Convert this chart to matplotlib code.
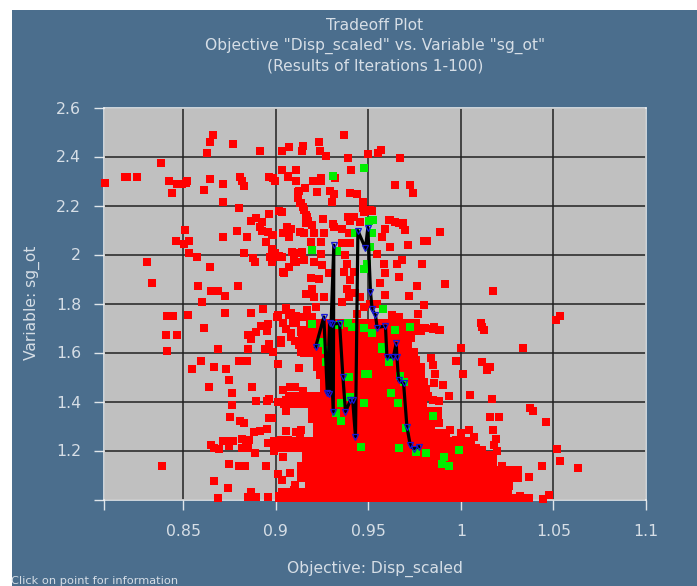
import numpy as np
import matplotlib
matplotlib.use("Agg")
import matplotlib.pyplot as plt
from matplotlib.patches import Rectangle

# ------------------------------------------------------------------
# data
# ------------------------------------------------------------------
red_sparse = [
    (0.8077,2.29),(0.8185,2.316),(0.8194,2.318),(0.8248,2.318),(0.838,2.373),(0.8424,2.302),(0.8437,2.253),
    (0.8468,2.288),(0.8491,2.288),(0.8514,2.291),(0.8518,2.302),(0.8612,2.264),(0.8644,2.308),(0.8628,2.415),
    (0.8644,2.46),(0.8662,2.486),(0.8766,2.453),(0.8916,2.423),(0.9031,2.423),(0.9071,2.439),(0.8716,2.286),
    (0.8716,2.215),(0.8806,2.316),(0.8815,2.298),(0.8826,2.278),(0.8801,2.189),(0.8964,2.316),(0.8986,2.313),
    (0.8995,2.298),(0.9031,2.346),(0.9108,2.346),(0.9067,2.321),(0.9108,2.298),(0.9121,2.257),(0.9121,2.23),
    (0.913,2.21),(0.9017,2.177),(0.8964,2.165),(0.8891,2.148),(0.8865,2.135),(0.8927,2.131),(0.8914,2.114),
    (0.8923,2.094),(0.8959,2.09),(0.8982,2.08),(0.9036,2.087),(0.9059,2.114),(0.9064,2.104),(0.9071,2.07),
    (0.913,2.09),(0.879,2.094),(0.8712,2.072),(0.8844,2.072),(0.8946,2.052),(0.8977,2.022),(0.8995,2.006),
    (0.9018,1.992),(0.8966,1.991),(0.9089,2.01),(0.9121,2.006),(0.9108,1.968),(0.9071,1.951),(0.9036,1.927),
    (0.8977,1.968),(0.8878,1.985),(0.8889,1.969),(0.8826,2.006),(0.8507,2.098),(0.8459,2.056),(0.8529,2.056),
    (0.8502,2.044),(0.8531,2.006),(0.8574,1.989),(0.8304,1.968),(0.8646,1.947),(0.8331,1.885),(0.8579,1.872),
    (0.8648,1.852),(0.8685,1.852),(0.8793,1.872),(0.8724,1.831),(0.8601,1.805),(0.8413,1.747),(0.8446,1.747),
    (0.8524,1.755),(0.8724,1.763),(0.8867,1.763),(0.8929,1.776),(0.8612,1.701),(0.8408,1.672),(0.8464,1.672),
    (0.8848,1.672),(0.8867,1.654),(0.8895,1.684),(0.892,1.71),(0.8956,1.716),(0.8953,1.686),(0.901,1.754),
    (0.9052,1.781),(0.9083,1.761),(0.911,1.751),(0.9038,1.72),(0.9056,1.695),(0.9092,1.72),(0.9137,1.693),
    (0.9083,1.679),(0.9101,1.645),(0.9029,1.638),(0.8962,1.634),(0.8943,1.615),(0.8983,1.604),(0.8851,1.614),
    (0.8685,1.614),(0.8413,1.606),(0.8596,1.567),(0.8545,1.533),(0.8663,1.539),(0.873,1.533),(0.8802,1.567),
    (0.8842,1.567),(0.901,1.555),(0.9123,1.535),(0.9137,1.604),(0.8744,1.489),(0.8641,1.46),(0.8873,1.46),
    (0.8762,1.434),(0.9039,1.445),(0.9077,1.459),(0.9105,1.459),(0.9146,1.441),(0.8762,1.387),(0.8895,1.404),
    (0.8951,1.402),(0.8965,1.41),(0.901,1.399),(0.9056,1.407),(0.9101,1.404),(0.9137,1.407),(0.9056,1.363),
    (0.8752,1.338),(0.8808,1.321),(0.883,1.312),(0.896,1.331),(0.8978,1.334),(0.8884,1.275),(0.8916,1.28),
    (0.8953,1.289),(0.9052,1.28),(0.911,1.275),(0.9137,1.285),(0.865,1.221),(0.8666,1.212),(0.869,1.207),
    (0.8712,1.237),(0.8735,1.237),(0.8748,1.217),(0.8766,1.237),(0.8815,1.248),(0.8815,1.212),(0.8848,1.212),
    (0.8857,1.241),(0.8838,1.23),(0.8889,1.188),(0.8956,1.23),(0.8992,1.237),(0.8992,1.2),(0.9029,1.241),
    (0.9065,1.244),(0.9092,1.23),(0.9128,1.257),(0.9137,1.217),(0.9041,1.172),(0.8386,1.138),(0.8746,1.146),
    (0.8799,1.138),(0.8835,1.138),(0.8945,1.138),(0.901,1.104),(0.9074,1.108),(0.9034,1.079),(0.9137,1.135),
    (0.9137,1.094),(0.8663,1.075),(0.8741,1.045),(0.9105,1.06),(0.9098,1.04),(0.8685,1.006),(0.8867,1.03),
    (0.8851,1.01),(0.8893,1.012),(0.8956,1.01),(0.9019,1.015),(0.9083,1.015),(0.9137,1.015),
    (0.937,2.486),(0.9232,2.461),(0.9149,2.444),(0.9142,2.424),(0.9237,2.424),(0.927,2.403),(0.9387,2.395),
    (0.9496,2.411),(0.955,2.416),(0.9568,2.427),(0.9673,2.395),(0.9406,2.344),(0.932,2.314),(0.9068,2.318),
    (0.9203,2.298),(0.9241,2.314),(0.9241,2.301),(0.9157,2.271),(0.9124,2.26),(0.9118,2.237),(0.9133,2.212),
    (0.9149,2.193),(0.9164,2.162),(0.9172,2.135),(0.9221,2.257),(0.9293,2.26),(0.9314,2.248),(0.9302,2.215),
    (0.9401,2.252),(0.9437,2.248),(0.9644,2.282),(0.9723,2.282),(0.9739,2.252),(0.9473,2.216),(0.9473,2.189),
    (0.9495,2.176),(0.9518,2.176),(0.9253,2.143),(0.9387,2.152),(0.9423,2.155),(0.9455,2.132),(0.9613,2.142),
    (0.9644,2.132),(0.9685,2.129),(0.9311,2.124),(0.9401,2.135),
    (0.9151,2.181),(0.9169,2.154),(0.916,2.127),(0.9196,2.12),(0.9151,2.086),(0.9205,2.086),(0.9187,2.052),
    (0.9241,2.052),(0.9256,2.143),(0.9313,2.113),(0.9259,2.086),(0.9358,2.106),(0.9403,2.147),(0.9475,2.174),
    (0.9511,2.181),(0.9394,2.086),(0.9403,2.045),(0.9358,2.045),(0.9376,1.997),(0.9385,1.963),(0.9367,1.929),
    (0.9421,1.929),(0.9403,1.895),(0.9385,1.861),(0.943,1.841),(0.9394,1.827),(0.9358,1.807),(0.9079,2.106),
    (0.9052,2.086),(0.907,2.072),(0.898,2.08),(0.9034,2.174),(0.9088,2.011),(0.9142,2.011),(0.9151,1.977),
    (0.9205,1.97),(0.9241,2.004),(0.925,1.957),(0.9097,1.977),(0.9043,1.925),(0.9,1.99),(0.9034,1.99),
    (0.9187,1.906),(0.9232,1.902),(0.9286,1.923),(0.9196,1.861),(0.916,1.837),(0.9205,1.827),(0.9259,1.827),
    (0.9169,1.773),(0.9214,1.787),(0.9052,1.773),(0.907,1.753),(0.9007,1.746),(0.9106,1.719),(0.9151,1.746),
    (0.9196,1.746),(0.9025,1.65),(0.9133,1.685),(0.9169,1.678),(0.9079,1.664),
    (0.9592,2.106),(0.9619,2.14),(0.9664,2.127),(0.97,2.099),(0.9688,2.12),(0.9574,2.072),(0.9619,2.031),
    (0.9715,2.038),(0.9799,2.054),(0.9889,2.093),(0.9817,2.054),(0.9787,1.963),(0.9679,1.977),(0.9652,1.963),
    (0.9583,1.963),(0.9547,2.004),(0.9592,1.923),(0.9664,1.909),(0.9565,1.882),(0.9592,1.834),(0.9763,1.871),
    (0.9718,1.83),(0.9916,1.879),(0.9799,1.793),(0.9767,1.759),(0.9664,1.746),(0.9628,1.753),(0.9691,1.719),
    (0.9763,1.698),(0.9808,1.698),(0.9889,1.691),(0.9853,1.705),(0.9655,1.691),(0.9547,1.8),(0.9511,1.8),
    (0.9457,1.827),(0.9475,1.787),(0.9439,1.759),
    (0.9913,1.88),(1.0174,1.852),(1.0536,1.751),(1.0512,1.733),(1.0107,1.722),(1.0114,1.706),(1.0125,1.693),
    (0.9848,1.695),(0.9884,1.693),(1.0002,1.62),(1.0335,1.62),(0.9975,1.567),(1.0112,1.563),(1.0159,1.539),
    (1.0141,1.527),(1.0013,1.513),(0.9839,1.577),(0.9848,1.55),(0.9862,1.512),(0.9902,1.468),(0.9857,1.475),
    (0.9935,1.421),(1.0047,1.425),(1.0168,1.412),(0.985,1.407),(0.9884,1.404),(1.0373,1.372),(1.0387,1.362),
    (1.0157,1.338),(1.0208,1.338),(1.0462,1.316),(0.9884,1.312),(0.9866,1.346),(1.0174,1.283),(1.0043,1.285),
    (0.9942,1.285),(1.0002,1.271),(1.0069,1.255),(1.0192,1.246),(0.9975,1.244),(1.0179,1.221),(1.004,1.212),
    (1.0114,1.203),(1.0197,1.196),(1.0518,1.208),(1.0536,1.158),(1.044,1.138),(1.063,1.13),(1.0367,1.091),
    (1.0304,1.1),(1.0259,1.057),(1.022,1.135),(1.0228,1.115),(1.0319,1.015),(1.0367,1.006),(1.0476,1.019),
    (1.0445,1.003),
]
red_sparse_x = [p[0] for p in red_sparse]
red_sparse_y = [p[1] for p in red_sparse]

# the solid red mass: squares overlap so only the extent of each row can be read
dense_y = [1.72,1.69,1.66,1.63,1.60,1.57,1.54,1.51,1.48,1.45,1.42,1.39,1.36,1.33,1.30,1.27,1.24,1.21,1.18,1.15,1.12,1.09,1.06,1.03,1.005]
dense_left = [0.9164,0.9142,0.912,0.9104,0.9131,0.9202,0.9202,0.9218,0.924,0.924,0.905,0.9023,0.9175,0.9175,
              0.9202,0.9202,0.898,0.898,0.9142,0.9142,0.9115,0.9115,0.9158,0.9012,0.8996]
dense_right = [0.978,0.9808,0.9753,0.9737,0.977,0.978,0.9808,0.9808,0.9824,0.9835,0.9846,0.9819,0.99,0.99,
               0.9862,0.9943,1.0078,1.0105,1.0197,1.0197,1.0332,1.0332,1.024,1.0278,1.0376]

green_x = [0.9309,0.9475,0.9522,0.9505,0.9194,0.9331,0.9475,0.9493,0.943,0.952,0.9511,0.958,0.9194,0.9389,0.9412,
           0.9475,0.952,0.9646,0.9727,0.934,0.9575,0.9238,0.9573,0.9609,0.9672,0.9693,0.9479,0.9496,0.9396,0.9622,
           0.9658,0.9477,0.9403,0.935,0.9323,0.935,0.9459,0.9663,0.9756,0.981,0.9851,0.9702,0.9989,0.9908,0.9899,
           0.9937,0.9237,0.9269,0.9269]
green_y = [2.322,2.352,2.142,2.136,2.02,2.015,1.939,1.963,2.086,2.086,2.031,1.776,1.716,1.721,1.705,
           1.702,1.678,1.691,1.704,1.712,1.623,1.637,1.616,1.562,1.503,1.48,1.512,1.512,1.499,1.435,
           1.392,1.395,1.419,1.392,1.354,1.321,1.215,1.212,1.195,1.191,1.34,1.29,1.203,1.172,1.144,
           1.136,1.644,1.61,1.562]

front_x = [0.9215,0.9259,0.9278,0.929,0.931,0.9313,0.9285,0.9304,0.9344,0.9362,0.9376,0.9403,0.9415,0.943,0.9443,
           0.9484,0.9497,0.9511,0.952,0.9538,0.9547,0.9592,0.96,0.9635,0.965,0.9654,0.9663,0.969,0.9708,0.9726,
           0.9744,0.9771]
front_y = [1.623,1.745,1.433,1.72,1.358,2.038,1.43,1.716,1.719,1.501,1.358,1.405,1.405,1.256,2.097,
           2.025,2.11,1.848,1.776,1.753,1.702,1.708,1.582,1.582,1.637,1.582,1.487,1.474,1.297,1.222,
           1.208,1.215]

xticks = [0.8071,0.85,0.9,0.95,1.0,1.05,1.1]
xtick_labels = ["","0.85","0.9","0.95","1","1.05","1.1"]
yticks = [1.0,1.2,1.4,1.6,1.8,2.0,2.2,2.4,2.6]
ytick_labels = ["","1.2","1.4","1.6","1.8","2","2.2","2.4","2.6"]

# ------------------------------------------------------------------
# figure
# ------------------------------------------------------------------
W, H = 697, 586
panel = "#4b6e8d"
txt = "#d6dee6"

fig = plt.figure(figsize=(W/100, H/100), dpi=100, facecolor="white")
fig.patches.append(Rectangle((12/W, 0), 1-12/W, 1-10/H, transform=fig.transFigure, facecolor=panel, edgecolor="none", zorder=-1))

ax = fig.add_axes([104/W, 1-499.5/H, 542/W, 392/H], facecolor="#c0c0c0")
ax.set_xlim(0.8071, 1.1)
ax.set_ylim(1.0, 2.6)
ax.set_xticks(xticks, xtick_labels)
ax.set_yticks(yticks, ytick_labels)
ax.grid(True, color="#222222", lw=1.1, zorder=1)
ax.set_axisbelow(True)
ax.tick_params(length=7.5, width=1, color="#dfe5ea", labelcolor=txt, labelsize=11.3, pad=9)
ax.tick_params(axis="x", pad=10)
for s in ax.spines.values():
    s.set_color("#f2f2f2")
    s.set_linewidth(1.1)
    s.set_zorder(1.5)

ax.barh(dense_y, np.array(dense_right)-np.array(dense_left), left=dense_left, height=0.034, color="#ff0000", lw=0, clip_on=False, zorder=3)
ax.plot(red_sparse_x, red_sparse_y, "s", color="#ff0000", ms=6.1, mew=0, clip_on=False, zorder=3)
ax.plot(green_x, green_y, "s", color="#00ee00", ms=6.3, mew=0, clip_on=False, zorder=4)
ax.plot(front_x, front_y, "-", color="black", lw=2.3, zorder=5)
ax.plot(front_x, front_y, "v", mfc="none", mec="#1818d8", ms=4.5, mew=0.9, zorder=6)

title_lines = ["Tradeoff Plot", 'Objective "Disp_scaled" vs. Variable "sg_ot"', "(Results of Iterations 1-100)"]
for line, ypx in zip(title_lines, [25, 46, 66]):
    fig.text(375/W, 1-ypx/H, line, color=txt, fontsize=11.2, ha="center", va="center")
fig.text(375/W, 1-569/H, "Objective: Disp_scaled", color=txt, fontsize=11.2, ha="center", va="center")
fig.text(32/W, 1-303/H, "Variable: sg_ot", color=txt, fontsize=11.2, ha="center", va="center", rotation=90)
fig.text(11/W, 1-581/H, "Click on point for information", color=txt, fontsize=8.2, ha="left", va="center")

fig.savefig("out.png", dpi=100, facecolor="white")
